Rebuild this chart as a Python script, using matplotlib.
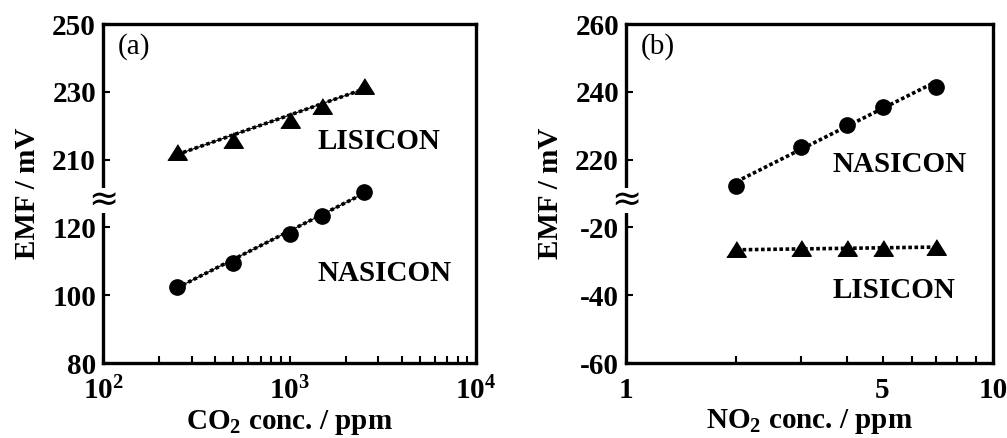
import numpy as np
import matplotlib.pyplot as plt
import matplotlib.ticker as ticker

plt.rcParams['font.family'] = 'Liberation Serif'
plt.rcParams['font.weight'] = 'bold'
plt.rcParams['mathtext.fontset'] = 'custom'
plt.rcParams['mathtext.rm'] = 'Liberation Serif:bold'
plt.rcParams['mathtext.bf'] = 'Liberation Serif:bold'
plt.rcParams['mathtext.default'] = 'rm'

# (a) CO2 response
co2 = [250, 500, 1000, 1500, 2500]
co2_lisicon = [212.2, 215.8, 221.6, 225.7, 231.7]
co2_nasicon = [102.4, 109.5, 118.1, 123.4, 130.3]
co2_lisicon_fit = [211.5, 230.8]
co2_nasicon_fit = [102.2, 130.0]
co2_yticks = [80, 100, 120, 210, 230, 250]

# (b) NO2 response
no2 = [2, 3, 4, 5, 7]
no2_nasicon = [212.3, 223.8, 230.3, 235.6, 241.3]
no2_lisicon = [-26.5, -26.0, -26.0, -26.2, -25.9]
no2_nasicon_fit = [213.5, 243.0]
no2_lisicon_fit = [-26.6, -25.8]
no2_yticks = [-60, -40, -20, 220, 240, 260]

# broken y axis: values above `cut` are drawn lowered by `off`
def shift(vals, cut, off):
    return [v - off if v > cut else v for v in vals]

tri = [(-1, -0.8), (1, -0.8), (0, 0.8)]
dots = (0, (1.0, 0.7))

fig = plt.figure(figsize=(10.07, 4.38), dpi=100)
ax1 = fig.add_axes([0.1023, 0.1712, 0.3704, 0.774])
ax2 = fig.add_axes([0.6216, 0.1712, 0.3645, 0.774])

# ---- (a)
cut, off = 170, 70
xe = [co2[0], co2[-1]]
ax1.plot(xe, shift(co2_lisicon_fit, cut, off), 'k-', lw=0.8)
ax1.plot(xe, shift(co2_lisicon_fit, cut, off), color='k', lw=2.6, linestyle=dots)
ax1.plot(xe, shift(co2_nasicon_fit, cut, off), 'k-', lw=0.8)
ax1.plot(xe, shift(co2_nasicon_fit, cut, off), color='k', lw=2.6, linestyle=dots)
ax1.plot(co2, shift(co2_lisicon, cut, off), linestyle='', marker=tri, color='k', markersize=14)
ax1.plot(co2, shift(co2_nasicon, cut, off), linestyle='', marker='o', color='k', markersize=11)
ax1.set_xscale('log')
ax1.set_xlim(1e2, 1e4)
ax1.set_ylim(80, 180)
ax1.set_yticks(shift(co2_yticks, cut, off))
ax1.set_yticklabels([str(v) for v in co2_yticks])
ax1.set_xticks([1e2, 1e3, 1e4])
ax1.set_xticklabels([r'$10^{2}$', r'$10^{3}$', r'$10^{4}$'])
ax1.xaxis.set_minor_locator(ticker.LogLocator(base=10, subs=np.arange(2, 10)))
ax1.xaxis.set_minor_formatter(ticker.NullFormatter())
ax1.set_xlabel(r'CO$_{2}$ conc. / ppm', fontsize=21, fontweight='bold', labelpad=2)
ax1.set_ylabel('EMF / mV', fontsize=21, fontweight='bold', labelpad=8)
ax1.text(0.04, 0.935, '(a)', transform=ax1.transAxes, fontsize=21, fontweight='normal', va='center')
ax1.text(0.574, 0.653, 'LISICON', transform=ax1.transAxes, fontsize=21, va='center')
ax1.text(0.574, 0.265, 'NASICON', transform=ax1.transAxes, fontsize=21, va='center')
brk1 = 128

# ---- (b)
cut, off = 100, 220
xe = [no2[0], no2[-1]]
ax2.plot(xe, shift(no2_nasicon_fit, cut, off), color='k', lw=2.6, linestyle=dots)
ax2.plot(xe, shift(no2_lisicon_fit, cut, off), color='k', lw=2.6, linestyle=dots)
ax2.plot(no2, shift(no2_lisicon, cut, off), linestyle='', marker=tri, color='k', markersize=14)
ax2.plot(no2, shift(no2_nasicon, cut, off), linestyle='', marker='o', color='k', markersize=11)
ax2.set_xscale('log')
ax2.set_xlim(1, 10)
ax2.set_ylim(-60, 40)
ax2.set_yticks(shift(no2_yticks, cut, off))
ax2.set_yticklabels([str(v) for v in no2_yticks])
ax2.set_xticks([1, 5, 10])
ax2.set_xticklabels(['1', '5', '10'])
ax2.xaxis.set_minor_locator(ticker.FixedLocator([2, 3, 4, 6, 7, 8, 9]))
ax2.xaxis.set_minor_formatter(ticker.NullFormatter())
ax2.set_xlabel(r'NO$_{2}$ conc. / ppm', fontsize=21, fontweight='bold', labelpad=2)
ax2.set_ylabel('EMF / mV', fontsize=21, fontweight='bold', labelpad=8)
ax2.text(0.04, 0.935, '(b)', transform=ax2.transAxes, fontsize=21, fontweight='normal', va='center')
ax2.text(0.564, 0.587, 'NASICON', transform=ax2.transAxes, fontsize=21, va='center')
ax2.text(0.564, 0.215, 'LISICON', transform=ax2.transAxes, fontsize=21, va='center')
brk2 = -12

for ax, brk in ((ax1, brk1), (ax2, brk2)):
    for s in ax.spines.values():
        s.set_linewidth(2.4)
    ax.tick_params(which='both', direction='in', top=False, right=False,
                   width=1.5, labelsize=21)
    ax.tick_params(which='both', length=5)
    ax.tick_params(axis='x', pad=10)
    ax.tick_params(axis='y', pad=5)
    for label in ax.get_xticklabels() + ax.get_yticklabels():
        label.set_fontweight('bold')
    # break mark on the left spine
    ax.text(0.0, brk, '\u2248', transform=ax.get_yaxis_transform(), ha='center', va='center',
            family='DejaVu Sans', fontsize=26, fontweight='normal', clip_on=False, zorder=10,
            bbox=dict(facecolor='white', edgecolor='none', pad=-3.0))

fig.savefig('out.png', dpi=100)
